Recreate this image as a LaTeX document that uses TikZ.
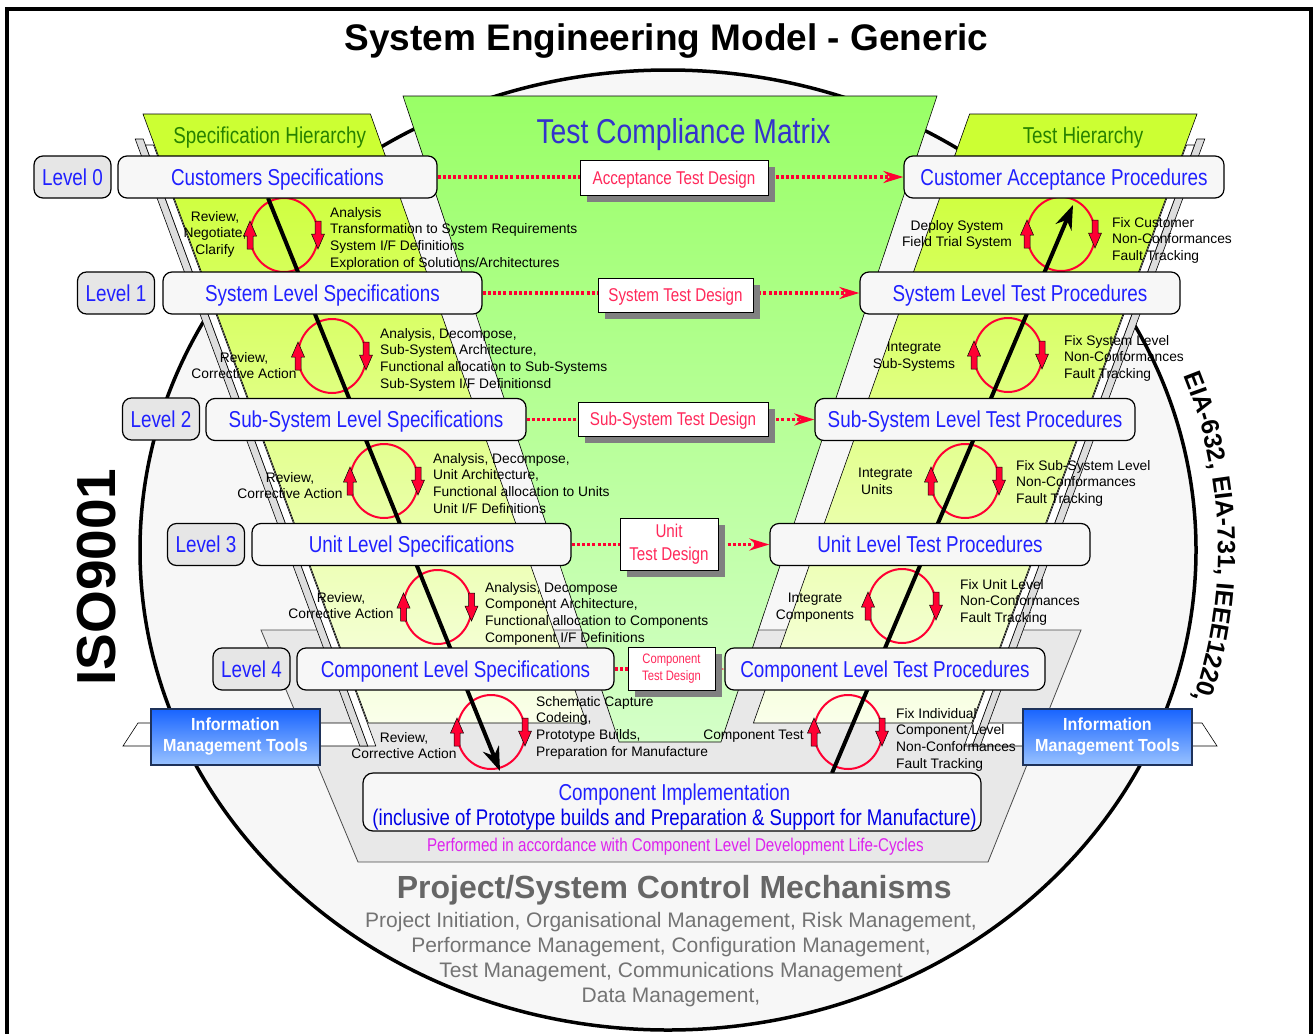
\documentclass[tikz,border=0pt]{standalone}
\usepackage{fontspec}
\setmainfont{Liberation Sans}
\newfontfamily\narrowfont[FakeStretch=0.82]{Liberation Sans}
\newfontfamily\imtfont[FakeStretch=0.92]{Liberation Sans}
\usetikzlibrary{arrows.meta,shadows,decorations.text}

\definecolor{ellipsefill}{RGB}{247,247,247}
\definecolor{bandgray}{RGB}{232,232,232}
\definecolor{stripgray}{RGB}{221,221,221}
\definecolor{headergreen}{RGB}{204,255,51}
\definecolor{armtop}{RGB}{204,255,51}
\definecolor{armbottom}{RGB}{250,255,235}
\definecolor{vtop}{RGB}{153,255,102}
\definecolor{vbottom}{RGB}{212,255,200}
\definecolor{specblue}{RGB}{32,32,255}
\definecolor{impblue}{RGB}{0,0,230}
\definecolor{matrixblue}{RGB}{51,51,204}
\definecolor{hiergreen}{RGB}{40,130,0}
\definecolor{boxfill}{RGB}{247,247,247}
\definecolor{levelfill}{RGB}{230,230,230}
\definecolor{designred}{RGB}{255,40,90}
\definecolor{linkred}{RGB}{255,0,51}
\definecolor{ringred}{RGB}{255,0,51}
\definecolor{shadowgray}{RGB}{128,128,128}
\definecolor{imttop}{RGB}{24,100,255}
\definecolor{imtbottom}{RGB}{153,194,255}
\definecolor{imtedge}{RGB}{30,50,90}
\definecolor{lifemagenta}{RGB}{221,34,238}
\definecolor{controlgray}{RGB}{102,102,102}
\definecolor{controltext}{RGB}{115,115,115}

\newcommand{\eiafont}{\bfseries\fontsize{25}{25}\selectfont}

% red block arrows beside the rings
\newcommand{\redup}[2]{\filldraw[fill=ringred, draw=black, line width=0.5pt] (#1,#2) ++(-3,14) -- ++(0,-13) -- ++(-3.5,0) -- ++(6.5,-15) -- ++(6.5,15) -- ++(-3.5,0) -- ++(0,13) -- cycle;}
\newcommand{\reddown}[2]{\filldraw[fill=ringred, draw=black, line width=0.5pt] (#1,#2) ++(-3,-14) -- ++(0,13) -- ++(-3.5,0) -- ++(6.5,15) -- ++(6.5,-15) -- ++(-3.5,0) -- ++(0,-13) -- cycle;}

% one arm of the V: two sheets behind, the shaded panel and its header
\newcommand{\armsheets}{%
  \filldraw[fill=stripgray, line width=0.6pt] (135.2,139) -- (143.2,139) -- (367.8,746) -- (359.8,746) -- cycle;
  \filldraw[fill=white, line width=0.6pt] (145.5,145) -- (153.5,145) -- (375.8,746) -- (367.8,746) -- cycle;
  \shadedraw[line width=0.6pt, top color=armtop, bottom color=armbottom] (158.2,155) -- (385,155) -- (586.6,723) -- (368.3,723) -- cycle;
  \filldraw[fill=headergreen, line width=0.6pt] (143,114) -- (370.4,114) -- (385.7,157) -- (158.9,157) -- cycle;
}

\tikzset{
  specbox/.style={draw, line width=1.2pt, rounded corners=9pt, fill=boxfill, text=specblue,
    font=\narrowfont\fontsize{23}{26}\selectfont, minimum height=42pt, inner sep=0pt,
    text height=16.5pt, text depth=0pt},
  levelbox/.style={specbox, fill=levelfill, minimum width=77pt},
  designbox/.style={draw, line width=0.8pt, fill=white, text=designred, inner sep=0pt, align=center,
    drop shadow={shadow xshift=7pt, shadow yshift=-7pt, fill=shadowgray, opacity=1}},
  designline/.style={designbox, font=\narrowfont\fontsize{18.5}{21}\selectfont, text height=13.3pt, text depth=0pt},
  testlink/.style={draw=linkred, line width=3.5pt, dash pattern=on 3pt off 2.2pt,
    -{Stealth[length=20pt,width=12pt]}},
  ringline/.style={draw=ringred, line width=2pt},
  flowline/.style={line width=4pt, -{Stealth[length=24pt,width=17pt]}},
  looptext/.style={font=\fontsize{13.8}{16.7}\selectfont, inner sep=0pt},
  imtbox/.style={draw=imtedge, line width=1.2pt, top color=imttop, bottom color=imtbottom, text=white,
    font=\imtfont\bfseries\fontsize{17.5}{21}\selectfont, align=center,
    minimum width=169pt, minimum height=56pt, inner sep=0pt}
}

\begin{document}
\begin{tikzpicture}[x=1pt,y=-1pt]
  \useasboundingbox (0,0) rectangle (1313,1033);
  \draw[line width=4pt] (7,1040) -- (7,9.3) -- (1311,9.3) -- (1311,1040);

  % background ellipse, component band and tool bars
  \filldraw[fill=ellipsefill, line width=3.5pt] (668,550) ellipse[x radius=528, y radius=480];
  \filldraw[fill=bandgray, draw=black!70, line width=0.8pt] (261,630) -- (1081,630) -- (988,862) -- (358,862) -- cycle;
  \filldraw[fill=white, line width=0.6pt] (123,746) -- (138,723) -- (360,723) -- (368,746) -- cycle;
  \filldraw[fill=white, line width=0.6pt] (1217,746) -- (1202,723) -- (980,723) -- (972,746) -- cycle;

  % the two arms and the compliance matrix
  \armsheets
  \begin{scope}[xshift=1340pt, xscale=-1]
    \armsheets
  \end{scope}
  \shadedraw[line width=0.6pt, top color=vtop, bottom color=vbottom] (403,96) -- (937,96) -- (721,742) -- (619,742) -- cycle;

  \node[anchor=base, text=hiergreen, font=\narrowfont\fontsize{23}{26}\selectfont] (spechier) at (269.7,143.3) {Specification Hierarchy};
  \node[anchor=base, text=hiergreen, font=\narrowfont\fontsize{23}{26}\selectfont] (testhier) at (1083,143.3) {Test Hierarchy};
  \node[anchor=base, text=matrixblue, font=\narrowfont\fontsize{34.5}{38}\selectfont] (matrix) at (683.5,143) {Test Compliance Matrix};

  % rings and the down / up flow
  \foreach \cx/\cy in {284/235, 332/356, 384/481, 437.5/607, 491/732, 1061/234, 1008/355, 965/481, 902/606, 848/732}
    \draw[ringline] (\cx,\cy) ellipse[x radius=34, y radius=37];
  \coordinate (specstart) at (268,198);
  \coordinate (specend) at (500,771);
  \coordinate (teststart) at (832,773);
  \coordinate (testend) at (1073,205);
  \draw[flowline] (specstart) -- (specend);
  \draw[flowline] (teststart) -- (testend);
  \foreach \cx/\cy in {284/235, 332/356, 384/481, 437.5/607, 491/732, 1061/234, 1008/355, 965/481, 902/606, 848/732} {
    \redup{\cx-34}{\cy}
    \reddown{\cx+34}{\cy}
  }

  % levels
  \node[levelbox] (lv0) at (72.5,177) {Level 0};
  \node[levelbox] (lv1) at (116,293) {Level 1};
  \node[levelbox] (lv2) at (161,419) {Level 2};
  \node[levelbox] (lv3) at (206,544.5) {Level 3};
  \node[levelbox] (lv4) at (251.5,669) {Level 4};

  % specifications
  \node[specbox, minimum width=319pt] (cs) at (277.5,177) {Customers Specifications};
  \node[specbox, minimum width=319pt] (sls) at (322.5,293) {System Level Specifications};
  \node[specbox, minimum width=320pt] (ssls) at (366,419.5) {Sub-System Level Specifications};
  \node[specbox, minimum width=319pt] (uls) at (411.5,544.5) {Unit Level Specifications};
  \node[specbox, minimum width=317pt] (cls) at (455.5,669) {Component Level Specifications};

  % test procedures
  \node[specbox, minimum width=320pt] (cap) at (1064,177) {Customer Acceptance Procedures};
  \node[specbox, minimum width=320pt] (sltp) at (1020,293) {System Level Test Procedures};
  \node[specbox, minimum width=320pt] (ssltp) at (975,419.5) {Sub-System Level Test Procedures};
  \node[specbox, minimum width=320pt] (ultp) at (930,544.5) {Unit Level Test Procedures};
  \node[specbox, minimum width=320pt] (cltp) at (885,669) {Component Level Test Procedures};

  \draw[testlink] (cs.east) -- (cap.west);
  \draw[testlink] (sls.east) -- (sltp.west);
  \draw[testlink] (ssls.east) -- (ssltp.west);
  \draw[testlink] (uls.east) -- (ultp.west);
  \draw[testlink] (cls.east) -- (cltp.west);

  % test designs
  \node[designline, minimum width=188pt, minimum height=35pt] (atd) at (674,177.5) {Acceptance Test Design};
  \node[designline, minimum width=155pt, minimum height=34pt] (std) at (675.5,295) {System Test Design};
  \node[designline, minimum width=190pt, minimum height=34pt] (sstd) at (673,419) {Sub-System Test Design};
  \node[designbox, minimum width=98pt, minimum height=52pt, font=\narrowfont\fontsize{18.5}{23.5}\selectfont] (utd) at (669,544) {Unit\\Test Design};
  \node[designbox, minimum width=87pt, minimum height=43pt, font=\narrowfont\fontsize{13.7}{17}\selectfont] (ctd) at (671.5,668.5) {Component\\Test Design};

  % activities beside the rings
  \node[looptext, align=center, anchor=north] (revA) at (215,211) {Review,\\Negotiate,\\Clarify};
  \node[looptext, align=left, anchor=north west] (anaA) at (330,207) {Analysis\\Transformation to System Requirements\\System I/F Definitions\\Exploration of Solutions/Architectures};
  \node[looptext, align=center, anchor=north] (revB) at (244,352) {Review,\\Corrective Action};
  \node[looptext, align=left, anchor=north west] (anaB) at (380,328) {Analysis, Decompose,\\Sub-System Architecture,\\Functional allocation to Sub-Systems\\Sub-System I/F Definitionsd};
  \node[looptext, align=center, anchor=north] (revC) at (290,472) {Review,\\Corrective Action};
  \node[looptext, align=left, anchor=north west] (anaC) at (433,453) {Analysis, Decompose,\\Unit Architecture,\\Functional allocation to Units\\Unit I/F Definitions};
  \node[looptext, align=center, anchor=north] (revD) at (341,592) {Review,\\Corrective Action};
  \node[looptext, align=left, anchor=north west] (anaD) at (485,582) {Analysis, Decompose\\Component Architecture,\\Functional allocation to Components\\Component I/F Definitions};
  \node[looptext, align=center, anchor=north] (revE) at (404,732) {Review,\\Corrective Action};
  \node[looptext, align=left, anchor=north west] (anaE) at (536,696) {Schematic Capture\\Codeing,\\Prototype Builds,\\Preparation for Manufacture};

  \node[looptext, align=center, anchor=north] (intA) at (957,220) {Deploy System\\Field Trial System};
  \node[looptext, align=left, anchor=north west] (fixA) at (1112,217) {Fix Customer\\Non-Conformances\\Fault Tracking};
  \node[looptext, align=center, anchor=north] (intB) at (914,342) {Integrate\\Sub-Systems};
  \node[looptext, align=left, anchor=north west] (fixB) at (1064,335) {Fix System Level\\Non-Conformances\\Fault Tracking};
  \node[looptext, align=left, anchor=north west] (intC) at (858,468) {Integrate\\\hspace*{3pt}Units};
  \node[looptext, align=left, anchor=north west] (fixC) at (1016,460) {Fix Sub-System Level\\Non-Conformances\\Fault Tracking};
  \node[looptext, align=center, anchor=north] (intD) at (815,593) {Integrate\\Components};
  \node[looptext, align=left, anchor=north west] (fixD) at (960,579) {Fix Unit Level\\Non-Conformances\\Fault Tracking};
  \node[looptext, anchor=north east] (intE) at (804,730) {Component Test};
  \node[looptext, align=left, anchor=north west] (fixE) at (896,708) {Fix Individual\\Component Level\\Non-Conformances\\Fault Tracking};

  % implementation
  \node[draw, line width=1.2pt, rounded corners=10pt, fill=boxfill, minimum width=618pt, minimum height=58pt, inner sep=0pt] (impl) at (672,802) {};
  \node[anchor=base, text=specblue, font=\narrowfont\fontsize{23}{26}\selectfont] (implhead) at (674.4,800) {Component Implementation};
  \node[anchor=base, text=impblue, font=\narrowfont\fontsize{22.7}{25}\selectfont] (impldetail) at (674.6,825) {(inclusive of Prototype builds and Preparation \& Support for Manufacture)};
  \node[anchor=base, text=lifemagenta, font=\narrowfont\fontsize{18.5}{21}\selectfont] (lifecycle) at (675.4,851.5) {Performed in accordance with Component Level Development Life-Cycles};

  \node[anchor=base, text=controlgray, font=\bfseries\fontsize{32}{36}\selectfont] (control) at (674.2,898.3) {Project/System Control Mechanisms};
  \node[anchor=north, align=center, text=controltext, font=\fontsize{21}{25}\selectfont, inner sep=0pt] (controllist) at (671,912.5)
    {Project Initiation, Organisational Management, Risk Management,\\Performance Management, Configuration Management,\\Test Management, Communications Management\\Data Management,};

  \node[imtbox] (imtL) at (235.5,737) {Information\\Management Tools};
  \node[imtbox] (imtR) at (1107.5,737) {Information\\Management Tools};

  % titles and standards
  \node[anchor=base, font=\bfseries\fontsize{37}{40}\selectfont] (title) at (666.5,51) {System Engineering Model - Generic};
  \node[rotate=90, font=\bfseries\fontsize{55}{55}\selectfont, inner sep=0pt] (iso) at (97,577) {ISO9001};
  \path[decorate, decoration={text along path, text align=center,
    text={|\eiafont|EIA-632{,} EIA-731{,} IEEE1220{,}}}]
    (1144.3,299) arc[start angle=-30, end angle=27, x radius=550, y radius=502];
\end{tikzpicture}
\end{document}
